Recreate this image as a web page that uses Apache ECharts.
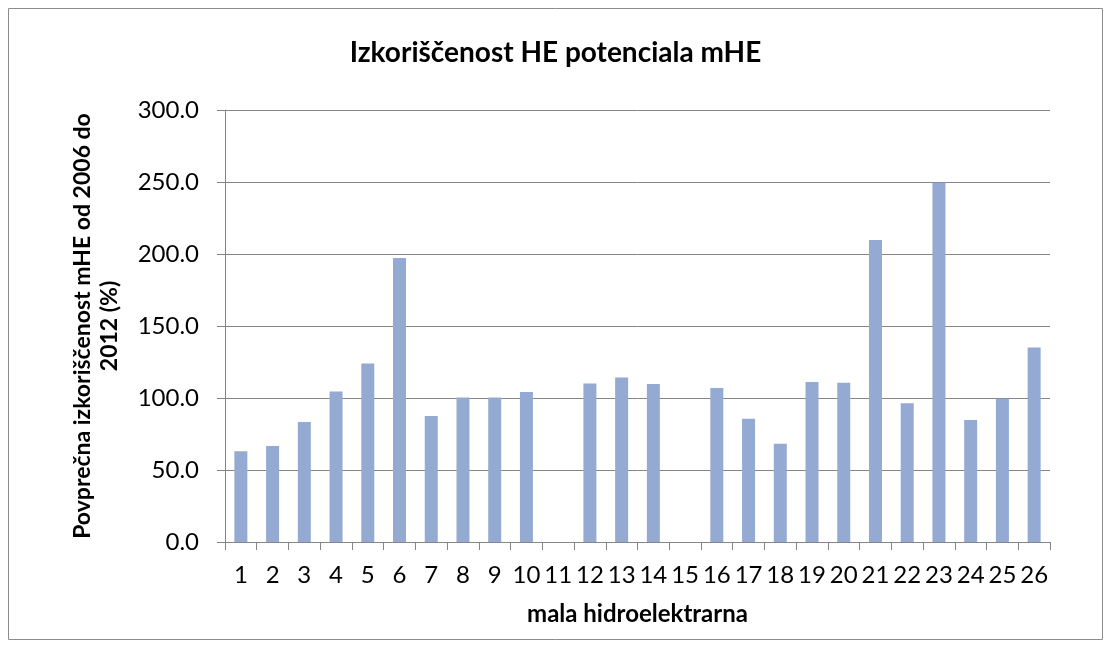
<!DOCTYPE html>
<html>
<head>
<meta charset="utf-8">
<script src="https://cdn.jsdelivr.net/npm/echarts@6/dist/echarts.min.js"></script>
<style>
  html, body { margin: 0; padding: 0; background: #fff; }
  #main { width: 1111px; height: 648px; }
</style>
</head>
<body>
<div id="main"></div>
<script>
// plant numbers on the x axis
const plants = ['1','2','3','4','5','6','7','8','9','10','11','12','13',
  '14','15','16','17','18','19','20','21','22','23','24','25','26'];
// average utilisation 2006-2012 (%)
const utilisation = [63.0, 66.7, 83.3, 104.6, 124.0, 197.2, 87.5, 100.4, 100.4, 104.2, 0,
  110.1, 114.3, 109.7, 0, 106.9, 85.6, 68.3, 111.1, 110.6, 209.7, 96.3, 249.5, 84.7, 99.5, 135.1];
const yTicks = { min: 0, max: 300, step: 50 };

const font = 'Lato, "Noto Sans", sans-serif';
const chart = echarts.init(document.getElementById('main'));

chart.setOption({
  animation: false,
  backgroundColor: '#fff',
  graphic: [{
    type: 'rect',
    shape: { x: 8.5, y: 8.5, width: 1094, height: 631 },
    style: { fill: 'none', stroke: '#8c8c8c', lineWidth: 1 },
    silent: true
  }],
  title: {
    text: 'Izkoriščenost HE potenciala mHE',
    left: 'center',
    top: 34,
    textStyle: { fontFamily: font, fontSize: 28, fontWeight: 'bold', color: '#000' }
  },
  grid: { left: 225, right: 61, top: 110, bottom: 106, containLabel: false },
  xAxis: {
    type: 'category',
    data: plants,
    name: 'mala hidroelektrarna',
    nameLocation: 'middle',
    nameGap: 60,
    nameTextStyle: { fontFamily: font, fontSize: 24, fontWeight: 'bold', color: '#000' },
    axisLine: { lineStyle: { color: '#868686', width: 1 } },
    axisTick: { show: true, length: 8, lineStyle: { color: '#868686' } },
    axisLabel: { fontFamily: font, fontSize: 24, color: '#000', margin: 21, interval: 0 }
  },
  yAxis: {
    type: 'value',
    min: yTicks.min,
    max: yTicks.max,
    interval: yTicks.step,
    name: 'Povprečna izkoriščenost mHE od 2006 do\n2012 (%)',
    nameLocation: 'middle',
    nameGap: 102,
    nameRotate: 90,
    nameTextStyle: { fontFamily: font, fontSize: 23, fontWeight: 'bold', color: '#000', lineHeight: 27, align: 'center' },
    axisLine: { show: true, lineStyle: { color: '#868686', width: 1 } },
    axisTick: { show: true, length: 8, lineStyle: { color: '#868686' } },
    splitLine: { lineStyle: { color: '#868686', width: 1 } },
    axisLabel: {
      fontFamily: font, fontSize: 24, color: '#000', margin: 26,
      formatter: v => v.toFixed(1)
    }
  },
  series: [{
    type: 'bar',
    data: utilisation,
    barWidth: 13,
    itemStyle: { color: '#95aad2' }
  }]
});
</script>
</body>
</html>
